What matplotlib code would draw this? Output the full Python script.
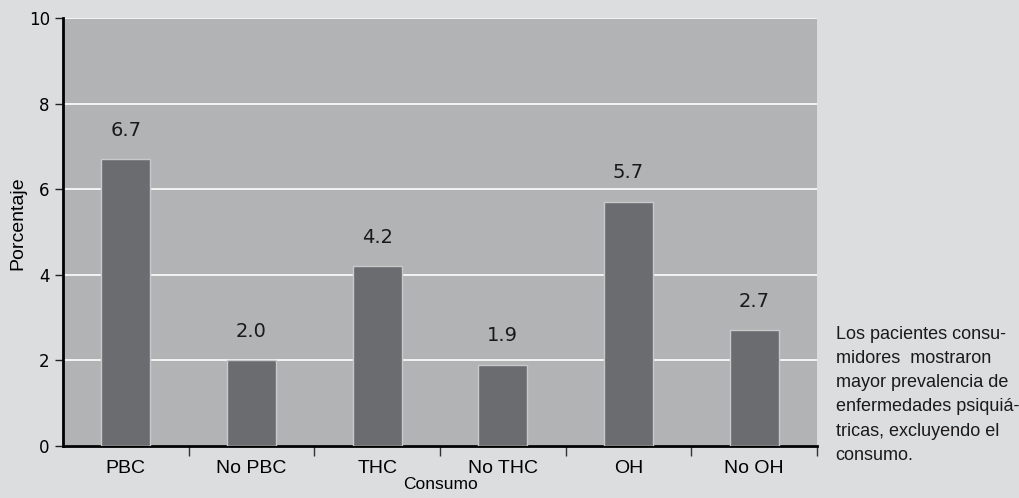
import matplotlib.pyplot as plt
import numpy as np

categorias = ['PBC', 'No PBC', 'THC', 'No THC', 'OH', 'No OH']
valores = [6.7, 2.0, 4.2, 1.9, 5.7, 2.7]
etiquetas = ['6.7', '2.0', '4.2', '1.9', '5.7', '2.7']
nota = ['Los pacientes consu-', 'midores  mostraron', 'mayor prevalencia de',
        'enfermedades psiquiá-', 'tricas, excluyendo el', 'consumo.']

fig = plt.figure(figsize=(10.19, 4.98), dpi=100, facecolor='#dcdddf')
ax = fig.add_axes([0.0618, 0.1044, 0.74, 0.8594])
ax.set_facecolor('#b1b3b5')

x = np.arange(len(categorias))
ax.bar(x, valores, width=0.39, color='#6b6c70', edgecolor='#c8c9cb', linewidth=1, zorder=3)
for xi, v, t in zip(x, valores, etiquetas):
    ax.text(xi, v + 0.68, t, ha='center', va='center', fontsize=14, color='#1a1a1a')

ax.set_xlim(-0.5, 5.5)
ax.set_ylim(0, 10)
ax.set_yticks([0, 2, 4, 6, 8, 10])
ax.yaxis.grid(True, color='white', linewidth=1.2, zorder=0)
ax.set_axisbelow(True)

ax.set_xticks(x)
ax.set_xticklabels(categorias, family='Liberation Sans', fontsize=14)
ax.tick_params(axis='x', which='major', length=0, pad=10)
ax.set_xticks(np.arange(0.5, 6, 1), minor=True)
ax.tick_params(axis='x', which='minor', length=7, width=1, color='#333333', direction='out')
ax.tick_params(axis='y', labelsize=12, length=6, width=1, color='#222222')

for s in ['top', 'right']:
    ax.spines[s].set_visible(False)
ax.spines['left'].set_linewidth(2)
ax.spines['bottom'].set_linewidth(2)

ax.set_ylabel('Porcentaje', fontsize=14, family='Liberation Sans')
ax.yaxis.set_label_coords(-0.048, 0.52)
ax.set_xlabel('Consumo', fontsize=12.5, family='Liberation Sans')
ax.xaxis.set_label_coords(0.5, -0.073)

for i, linea in enumerate(nota):
    fig.text(0.82, 1 - (334 + i * 24.3) / 498, linea, fontsize=13, va='center',
             ha='left', color='#1a1a1a', family='Liberation Sans')

fig.savefig('out.png', dpi=100, facecolor=fig.get_facecolor())
